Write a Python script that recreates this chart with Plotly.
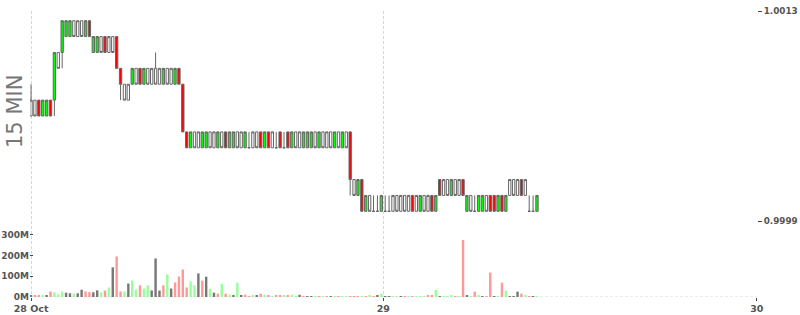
import pandas as pd
import plotly.graph_objects as go

# ---------------- data ----------------
START = "2024-10-28 01:22:30"     # first 15-minute candle
INTERVAL = "15min"
BASE_PRICE = 1.0
PIP = 0.0001                       # prices are stored as pips above 1.0000

OPEN_PIPS = [6, 7, 7, 6, 6, 7, 7, 10, 10, 11,
             11, 12, 11, 12, 11, 12, 10, 10, 11, 11,
             10, 11, 11, 9, 8, 7, 8, 9, 9, 8,
             9, 8, 9, 8, 8, 9, 8, 8, 9, 8,
             5, 4, 5, 4, 4, 4, 5, 4, 4, 5,
             5, 4, 4, 5, 4, 4, 4, 4, 5, 5,
             4, 5, 4, 4, 5, 4, 5, 4, 5, 4,
             4, 4, 4, 5, 4, 5, 4, 5, 4, 5,
             4, 5, 5, 2, 1, 2, 0, 1, 0, 0,
             0, 0, 0, 0, 1, 0, 1, 0, 1, 0,
             0, 1, 0, 1, 0, 2, 1, 2, 1, 2,
             1, 2, 0, 1, 0, 0, 0, 1, 1, 1,
             0, 1, 0, 1, 2, 1, 2, 1, 0, 0,
             0]
HIGH_PIPS = [8, 7, 7, 7, 7, 7, 10, 10, 12, 12,
             12, 12, 12, 12, 12, 12, 11, 11, 11, 11,
             11, 11, 11, 9, 8, 8, 9, 9, 9, 9,
             9, 9, 10, 9, 9, 9, 9, 9, 9, 8,
             5, 5, 5, 5, 5, 5, 5, 5, 5, 5,
             5, 5, 5, 5, 5, 5, 5, 5, 5, 5,
             5, 5, 5, 5, 5, 5, 5, 5, 5, 5,
             5, 5, 5, 5, 5, 5, 5, 5, 5, 5,
             5, 5, 5, 2, 2, 2, 1, 1, 1, 1,
             1, 1, 1, 1, 1, 1, 1, 1, 1, 1,
             1, 1, 1, 1, 1, 2, 2, 2, 2, 2,
             2, 2, 1, 1, 1, 1, 1, 1, 1, 1,
             1, 1, 1, 2, 2, 2, 2, 2, 1, 1,
             1]
LOW_PIPS = [6, 6, 6, 6, 6, 6, 6, 9, 9, 11,
            11, 11, 11, 11, 11, 11, 10, 10, 10, 10,
            10, 10, 9, 7, 7, 7, 8, 8, 8, 8,
            8, 8, 8, 8, 8, 8, 8, 8, 8, 5,
            4, 4, 4, 4, 4, 4, 4, 4, 4, 4,
            4, 4, 4, 4, 4, 4, 4, 4, 4, 4,
            4, 4, 4, 4, 4, 4, 4, 4, 4, 4,
            4, 4, 4, 4, 4, 4, 4, 4, 4, 4,
            4, 4, 1, 1, 1, 0, 0, 0, 0, 0,
            0, 0, 0, 0, 0, 0, 0, 0, 0, 0,
            0, 0, 0, 0, 0, 1, 1, 1, 1, 1,
            1, 1, 0, 0, 0, 0, 0, 0, 0, 0,
            0, 0, 0, 1, 1, 1, 1, 1, 0, 0,
            0]
CLOSE_PIPS = [7, 6, 6, 7, 7, 6, 10, 9, 12, 12,
              12, 11, 12, 11, 12, 11, 11, 11, 10, 10,
              11, 10, 9, 8, 7, 8, 9, 8, 8, 9,
              8, 9, 8, 9, 9, 8, 9, 9, 8, 5,
              4, 5, 4, 5, 5, 5, 4, 5, 5, 4,
              4, 5, 5, 4, 5, 5, 4, 5, 4, 4,
              5, 4, 5, 4, 4, 4, 4, 5, 4, 5,
              5, 5, 5, 4, 5, 4, 5, 4, 5, 4,
              5, 4, 2, 1, 2, 0, 1, 0, 0, 0,
              1, 0, 0, 1, 0, 1, 0, 1, 0, 1,
              1, 0, 1, 0, 1, 1, 2, 1, 2, 1,
              2, 1, 1, 0, 0, 1, 1, 0, 0, 0,
              1, 0, 1, 2, 1, 2, 1, 2, 0, 0,
              1]
# body type per candle: g = up (green), r = down (red), w = hollow
BODY_TYPE = ("wwrggrgwgg" "gwwwgrggwr" "wwrrwwgwrg" "wwwwgwwgrr"
             "rgwwggwwgw" "rggwwgwwwr" "grwwrwrgww" "gggwgwwwgw"
             "gwrwgrgwww" "gwwwwwwwrw" "gwwrgrwwgw" "wrgwwggwrr"
             "grgwwwrwww" "g")

VOLUME_M = [8, 6, 8, 8, 8, 27, 23, 13, 26, 21,
            18, 16, 18, 35, 27, 23, 23, 32, 22, 31,
            46, 143, 196, 27, 27, 65, 80, 36, 56, 41,
            56, 32, 186, 31, 56, 109, 41, 70, 99, 133,
            46, 75, 56, 114, 79, 98, 40, 21, 16, 64,
            16, 11, 6, 69, 6, 11, 3, 6, 6, 16,
            11, 6, 3, 6, 6, 6, 6, 11, 3, 11,
            3, 3, 3, 2, 1, 2, 1, 2, 3, 1,
            2, 2, 1, 1, 1, 1, 1, 6, 1, 6,
            16, 2, 3, 1, 1, 3, 1, 1, 1, 1,
            1, 1, 5, 5, 35, 2, 1, 1, 6, 1,
            1, 275, 5, 3, 26, 5, 3, 3, 118, 3,
            2, 69, 31, 3, 3, 26, 16, 6, 2, 3,
            3]
# volume side: g = buy, r = sell, n = neutral
VOLUME_SIDE = ("nrrgnrgggn" "ngnnrrnngr" "gnrrgnggrg" "gnnnrgnrrr"
               "rggnrngnrg" "rgngnrrgnr" "grgrrgrggn" "rnngrgrngr"
               "ggrrrgrgrn" "gnnggnrgrg" "ggrrgngggr" "grngrgnrrn"
               "grgnnnrgrn" "g")

X_TICK_DAYS = ["2024-10-29", "2024-10-30"]
X_TICK_TEXT = ["28 Oct", "29", "30"]
VOL_TICKS = [0, 100, 200, 300]
VOL_TICK_TEXT = ["0M", "100M", "200M", "300M"]
PANEL_LABEL = "15 MIN"

# ---------------- styling ----------------
EDGE = "#666666"
GRID = "#d6d6d6"
DASH = "3px,2px"
TXT = "#555555"
BODY_FILL = {"g": "#00ff00", "r": "#ff0000", "w": "#ffffff"}
VOL_FILL = {"g": "#99ff99", "r": "#ff9999", "n": "#777777"}
TICK_FONT = dict(family="DejaVu Sans", size=9.5, color=TXT, weight="bold")
VOL_FONT = dict(family="DejaVu Sans", size=9, color=TXT, weight="bold")
PRICE_FONT = dict(family="DejaVu Sans", size=8.8, color=TXT, weight="bold")

times = pd.date_range(START, periods=len(OPEN_PIPS), freq=INTERVAL)


def px(p):
    return BASE_PRICE + p * PIP


fig = go.Figure()

for kind, fill in BODY_FILL.items():
    idx = [i for i, k in enumerate(BODY_TYPE) if k == kind]
    style = dict(fillcolor=fill, line=dict(color=EDGE, width=1))
    fig.add_trace(go.Candlestick(
        x=[times[i] for i in idx],
        open=[px(OPEN_PIPS[i]) for i in idx],
        high=[px(HIGH_PIPS[i]) for i in idx],
        low=[px(LOW_PIPS[i]) for i in idx],
        close=[px(CLOSE_PIPS[i]) for i in idx],
        increasing=style, decreasing=style,
        whiskerwidth=0, showlegend=False, hoverinfo="x+y",
        xaxis="x", yaxis="y",
    ))

fig.add_trace(go.Bar(
    x=times, y=VOLUME_M,
    marker=dict(color=[VOL_FILL[s] for s in VOLUME_SIDE], line=dict(width=0)),
    width=0.62 * 15 * 60 * 1000,
    showlegend=False, xaxis="x", yaxis="y2",
))

VOL_FRAC = (297 - 221) / 286.0
P_LO, P_HI = 0.999939, 1.001261
x_start = times[0] - pd.Timedelta(minutes=4)
x_end = pd.Timestamp(X_TICK_DAYS[-1]) + pd.Timedelta(seconds=30)

fig.update_layout(
    template="none",
    width=800, height=315,
    margin=dict(l=30, r=43, t=11, b=18, pad=0),
    paper_bgcolor="white", plot_bgcolor="white",
    boxgap=0.25, boxgroupgap=0.2,
    showlegend=False,
    xaxis=dict(
        type="date", range=[x_start, x_end], anchor="y2",
        tickmode="array",
        tickvals=[times[0]] + [pd.Timestamp(d) for d in X_TICK_DAYS],
        ticktext=X_TICK_TEXT,
        showgrid=True, gridcolor=GRID, griddash=DASH, gridwidth=1,
        ticks="outside", ticklen=3, tickcolor="#444", tickwidth=1,
        tickfont=TICK_FONT, zeroline=False, showline=False,
        rangeslider=dict(visible=False), automargin=False,
    ),
    yaxis=dict(
        domain=[VOL_FRAC, 1], anchor="x", side="right",
        range=[P_LO, P_HI], tickmode="array",
        tickvals=[P_LO + 1e-9, P_HI - 1e-9], tickformat=".4f",
        showgrid=True, gridcolor=GRID, griddash=DASH, gridwidth=1,
        ticks="outside", ticklen=4, tickcolor="#444", tickwidth=1,
        tickfont=PRICE_FONT, zeroline=False, showline=False, automargin=False,
    ),
    yaxis2=dict(
        domain=[0, VOL_FRAC], anchor="x", side="left",
        range=[0, 367], tickmode="array", tickvals=VOL_TICKS,
        ticktext=VOL_TICK_TEXT,
        showgrid=False, ticks="inside", ticklen=3, tickcolor="#444",
        tickwidth=1, tickfont=VOL_FONT, zeroline=False, showline=False,
        automargin=False,
    ),
    shapes=[dict(type="line", xref="paper", yref="y2", x0=0, x1=1, y0=0, y1=0,
                 line=dict(color=GRID, width=1, dash=DASH), layer="below")],
    annotations=[dict(
        text=PANEL_LABEL, xref="paper", yref="paper",
        x=(15 - 30) / 727.0, y=(297 - 112) / 286.0,
        xanchor="center", yanchor="middle", textangle=-90, showarrow=False,
        font=dict(family="DejaVu Sans", size=21, color="#777777"),
    )],
)

fig.write_html("out.html")
